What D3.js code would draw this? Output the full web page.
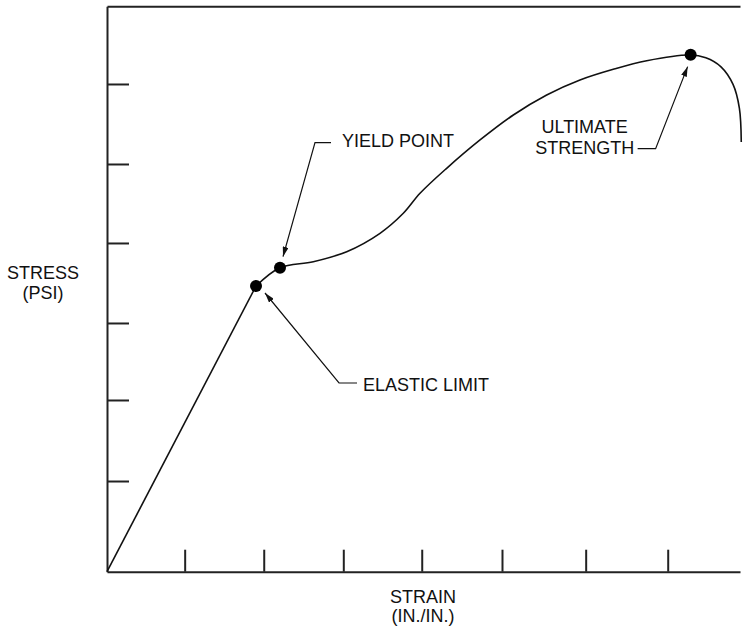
<!DOCTYPE html>
<html><head><meta charset="utf-8">
<script src="https://cdn.jsdelivr.net/npm/d3@7"></script>
<style>body{margin:0;background:#fff}svg{display:block}text{font-family:"Liberation Sans",Arial,Helvetica,sans-serif;fill:#111}</style>
</head><body><svg id="c" width="750" height="629"></svg>
<script>
// data (arbitrary units, strain 0..100, stress 0..100)
const elasticStrain = [0, 23.54];
const elasticStress = [0, 50.53];
const curveStrain = [23.54, 27.33, 32.59, 37.87, 43.13, 46.81, 49.45, 53.66, 58.93, 64.19, 69.46, 74.72, 79.98, 85.26, 92.1, 94.6, 97.0, 98.9, 99.9, 100.2];
const curveStress = [50.53, 53.77, 54.83, 56.6, 59.85, 63.39, 66.93, 71.35, 76.36, 80.78, 84.32, 86.97, 88.86, 90.38, 91.39, 90.9, 89.3, 86.2, 82.0, 76.0];
const pointNames = ["ELASTIC LIMIT", "YIELD POINT", "ULTIMATE STRENGTH"];
const pointStrain = [23.54, 27.33, 92.2];
const pointStress = [50.53, 53.77, 91.45];
const xTickValues = [12.27, 24.76, 37.33, 49.72, 62.4, 75.62, 88.58];
const yTickValues = [16.04, 30.37, 43.99, 58.14, 72.11, 86.26];
const yLabel = ["STRESS", "(PSI)"];
const xLabel = ["STRAIN", "(IN./IN.)"];

const svg = d3.select("#c");
const x = d3.scaleLinear().domain([0, 100]).range([107, 740]);
const y = d3.scaleLinear().domain([0, 100]).range([571.7, 6.3]);

const defs = svg.append("defs");
defs.append("marker").attr("id","arr").attr("viewBox","0 0 10 6").attr("refX",10).attr("refY",3)
  .attr("markerWidth",10).attr("markerHeight",6).attr("markerUnits","userSpaceOnUse").attr("orient","auto")
  .append("path").attr("d","M0,0L10,3L0,6Z").attr("fill","#111");

// axes
const xAxis = d3.axisBottom(x).tickValues(xTickValues).tickSize(-22).tickFormat("").tickSizeOuter(0);
const yAxis = d3.axisLeft(y).tickValues(yTickValues).tickSize(-22).tickFormat("").tickSizeOuter(0);
const gx = svg.append("g").attr("transform", `translate(0,${y(0)})`).call(xAxis);
const gy = svg.append("g").attr("transform", `translate(${x(0)},0)`).call(yAxis);
[gx, gy].forEach(g => { g.selectAll("path,line").attr("stroke","#222").attr("stroke-width",2); });
const gt = svg.append("g").attr("transform", `translate(0,${y(100)})`).call(d3.axisTop(x).ticks(0).tickSizeOuter(0));
gt.selectAll("path").attr("stroke","#222").attr("stroke-width",2);

// curve
svg.append("path").datum(elasticStrain.map((v,i)=>[v, elasticStress[i]]))
  .attr("d", d3.line().x(d=>x(d[0])).y(d=>y(d[1])))
  .attr("fill","none").attr("stroke","#111").attr("stroke-width",1.6);
svg.append("path").datum(curveStrain.map((v,i)=>[v, curveStress[i]]))
  .attr("d", d3.line().curve(d3.curveCatmullRom.alpha(0.5)).x(d=>x(d[0])).y(d=>y(d[1])))
  .attr("fill","none").attr("stroke","#111").attr("stroke-width",1.6);

// points
svg.selectAll("circle.pt").data(pointStrain).join("circle").attr("class","pt")
  .attr("cx",(d)=>x(d)).attr("cy",(d,i)=>y(pointStress[i])).attr("r",6).attr("fill","#000");

// annotations (leader offsets in px relative to point)
const ann = [
  {i:0, path:[[101,97],[83,97],[9,7]], tx:107, ty:105},
  {i:1, path:[[51,-125],[35,-125],[3,-11]], tx:62, ty:-121},
  {i:2, path:[[-53,94],[-35,94],[-3,12]], tx:-106, ty:99}
];
ann.forEach(a => {
  const px = x(pointStrain[a.i]), py = y(pointStress[a.i]);
  svg.append("path").attr("d", d3.line()(a.path.map(p=>[px+p[0], py+p[1]])))
    .attr("fill","none").attr("stroke","#111").attr("stroke-width",1.2).attr("marker-end","url(#arr)");
  if (a.i === 2) {
    const t = svg.append("text").attr("text-anchor","middle").attr("font-size",18);
    pointNames[a.i].split(" ").forEach((w,k)=>t.append("tspan").attr("x",px+a.tx).attr("y",py+a.ty-21+k*21).text(w));
  } else {
    svg.append("text").attr("x",px+a.tx).attr("y",py+a.ty).attr("font-size",18).text(pointNames[a.i]);
  }
});

// axis labels
const yl = svg.append("text").attr("text-anchor","middle").attr("font-size",18);
yLabel.forEach((s,i)=>yl.append("tspan").attr("x",43).attr("y",279+i*20).text(s));
const xl = svg.append("text").attr("text-anchor","middle").attr("font-size",18);
xLabel.forEach((s,i)=>xl.append("tspan").attr("x",423).attr("y",603+i*19).text(s));
</script></body></html>
